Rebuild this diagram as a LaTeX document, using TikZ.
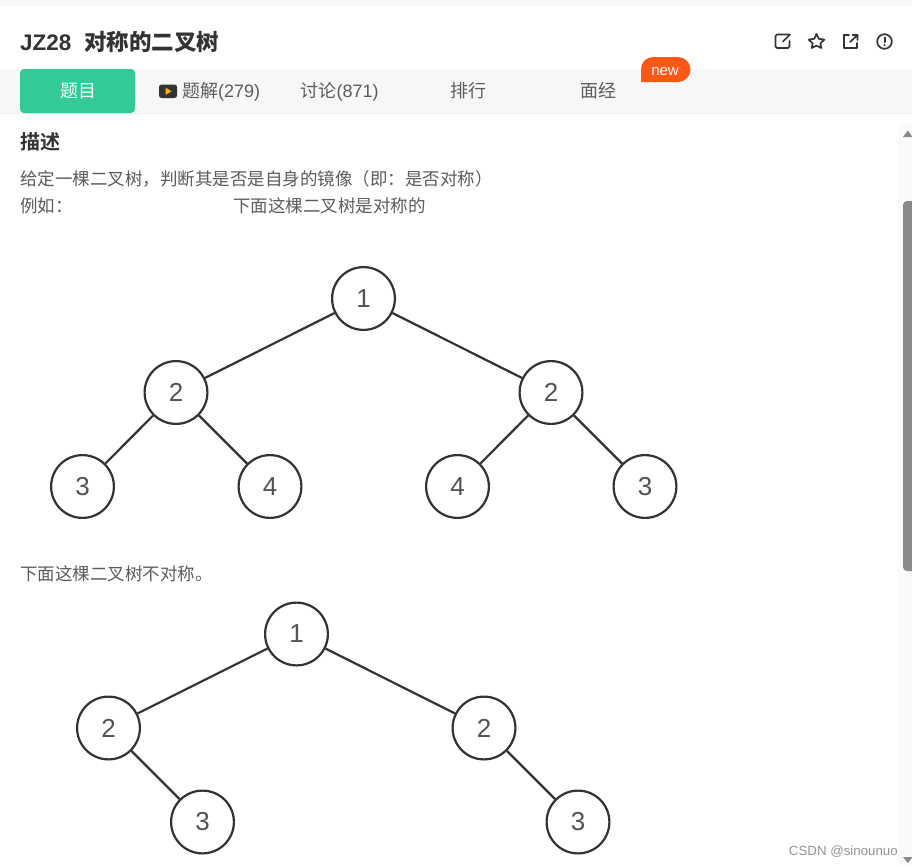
\documentclass[tikz,border=0pt]{standalone}
\usepackage{fontspec}
\setmainfont{Liberation Sans}
\newfontfamily\cjk{Noto Sans CJK SC}
\newfontfamily\cjkb{Noto Sans CJK SC Bold}
\definecolor{bar}{HTML}{F5F7F9}
\definecolor{grn}{HTML}{32CA99}
\definecolor{org}{HTML}{FF5717}
\definecolor{ink}{HTML}{333333}
\definecolor{txt}{HTML}{5C5C5C}
\definecolor{sbar}{HTML}{8A8A8A}
\tikzset{
 x=1pt,y=-1pt,
 treenode/.style={circle,draw=ink,line width=2.2pt,fill=white,minimum size=62.8pt,inner sep=0pt,font=\fontsize{26}{26}\selectfont,text=txt!90!black},
 edgeline/.style={draw=ink,line width=2.2pt},
 lbl/.style={anchor=base west,inner sep=0pt,text=txt,font=\fontsize{17.5}{17.5}\selectfont\cjk},
 tab/.style={anchor=base,inner sep=0pt,text=txt,font=\fontsize{18}{18}\selectfont\cjk},
 ico/.style={draw=ink,line width=1.7pt,line cap=round,line join=round},
}
\begin{document}
\begin{tikzpicture}
\useasboundingbox (0,0) rectangle (912,865);
\fill[white] (0,0) rectangle (912,865);
\fill[bar] (0,0) rectangle (912,6);
\fill[bar] (0,69) rectangle (912,113);
\fill[black!6] (0,113) rectangle (912,114);
% title
\node[anchor=base west,inner sep=0pt,text=ink,font=\fontsize{22.5}{22}\selectfont\bfseries] (title) at (20,50) {JZ28\hspace{13pt}{\cjkb 对称的二叉树}};
% tabs
\fill[grn,rounded corners=4pt] (20,69) rectangle (135,113);
\node[tab,text=white] (t1) at (78,97.5) {题目};
\fill[ink,rounded corners=2.5pt] (159,84.5) rectangle (177,98);
\fill[orange!60!yellow] (165.5,87.5) -- (171.5,91.3) -- (165.5,95) -- cycle;
\node[tab,anchor=base west] (t2) at (182,97.5) {题解\fontsize{18}{18}\selectfont\rmfamily(279)};
\node[tab,anchor=base west] (t3) at (300.5,97.5) {讨论\fontsize{18}{18}\selectfont\rmfamily(871)};
\node[tab] (t4) at (468,97.5) {排行};
\node[tab] (t5) at (598.5,97.5) {面经};
% new badge
\fill[org] (641,82) -- (641,69) arc[start angle=180,end angle=90,radius=12pt] -- (678,57) arc[start angle=90,end angle=-90,radius=12.5pt] -- cycle;
\node[anchor=base,inner sep=0pt,text=white,font=\fontsize{15}{15}\selectfont] (new) at (665,75) {new};
% icons
\draw[ico,rounded corners=1.5pt] (789,34.5) -- (775.5,34.5) -- (775.5,48) -- (789.5,48) -- (789.5,41);
\draw[ico] (783,41.5) -- (790,34.5);
\draw[ico] (816.5,34) -- (818.7,38.8) -- (824.3,39.6) -- (820.3,43.4) -- (821.3,48) -- (816.5,45.6) -- (811.7,48) -- (812.7,43.4) -- (808.7,39.6) -- (814.3,38.8) -- cycle;
\draw[ico] (849,35) -- (844,35) -- (844,48) -- (857,48) -- (857,43);
\draw[ico] (850,42) -- (857.5,35) (852.5,35) -- (857.5,35) -- (857.5,40);
\draw[ico] (884.5,41.5) circle[radius=7.3];
\draw[ico,line width=2pt] (884.5,37.5) -- (884.5,42);
\fill[ink] (884.5,45.2) circle[radius=1.2];
% text
\node[anchor=base west,inner sep=0pt,text=ink,font=\fontsize{20}{20}\selectfont\cjkb] (h) at (20,149.5) {描述};
\node[lbl] (p1) at (20,185) {给定一棵二叉树^^^^ff0c判断其是否是自身的镜像^^^^ff08即^^^^ff1a是否对称^^^^ff09};
\node[lbl] (p2) at (20,212) {例如^^^^ff1a};
\node[lbl] (p3) at (233,212) {下面这棵二叉树是对称的};
\node[lbl] (p4) at (20,580) {下面这棵二叉树不对称。};
% tree 1
\node[treenode] (a) at (363.5,298.5) {1};
\node[treenode] (b) at (176,392.5) {2};
\node[treenode] (c) at (551,392.5) {2};
\node[treenode] (d) at (82.5,486.5) {3};
\node[treenode] (e) at (270,486.5) {4};
\node[treenode] (f) at (457.5,486.5) {4};
\node[treenode] (g) at (645,486.5) {3};
\draw[edgeline] (a)--(b) (a)--(c) (b)--(d) (b)--(e) (c)--(f) (c)--(g);
% tree 2
\node[treenode] (a2) at (296.5,634) {1};
\node[treenode] (b2) at (108.5,728) {2};
\node[treenode] (c2) at (484,728) {2};
\node[treenode] (d2) at (202.5,822) {3};
\node[treenode] (e2) at (578,822) {3};
\draw[edgeline] (a2)--(b2) (a2)--(c2) (b2)--(d2) (c2)--(e2);
% scrollbar
\fill[black!2] (898,124) rectangle (912,865);
\fill[sbar,rounded corners=4pt] (903,201) rectangle (916,571);
\fill[sbar] (903,137) -- (912.5,137) -- (907.8,130.5) -- cycle;
\fill[sbar] (903,857) -- (912.5,857) -- (907.8,863) -- cycle;
% watermark
\node[anchor=base east,inner sep=0pt,text=black!42,font=\fontsize{13.3}{13}\selectfont] (wm) at (898,855) {CSDN @sinounuo};
\end{tikzpicture}
\end{document}
